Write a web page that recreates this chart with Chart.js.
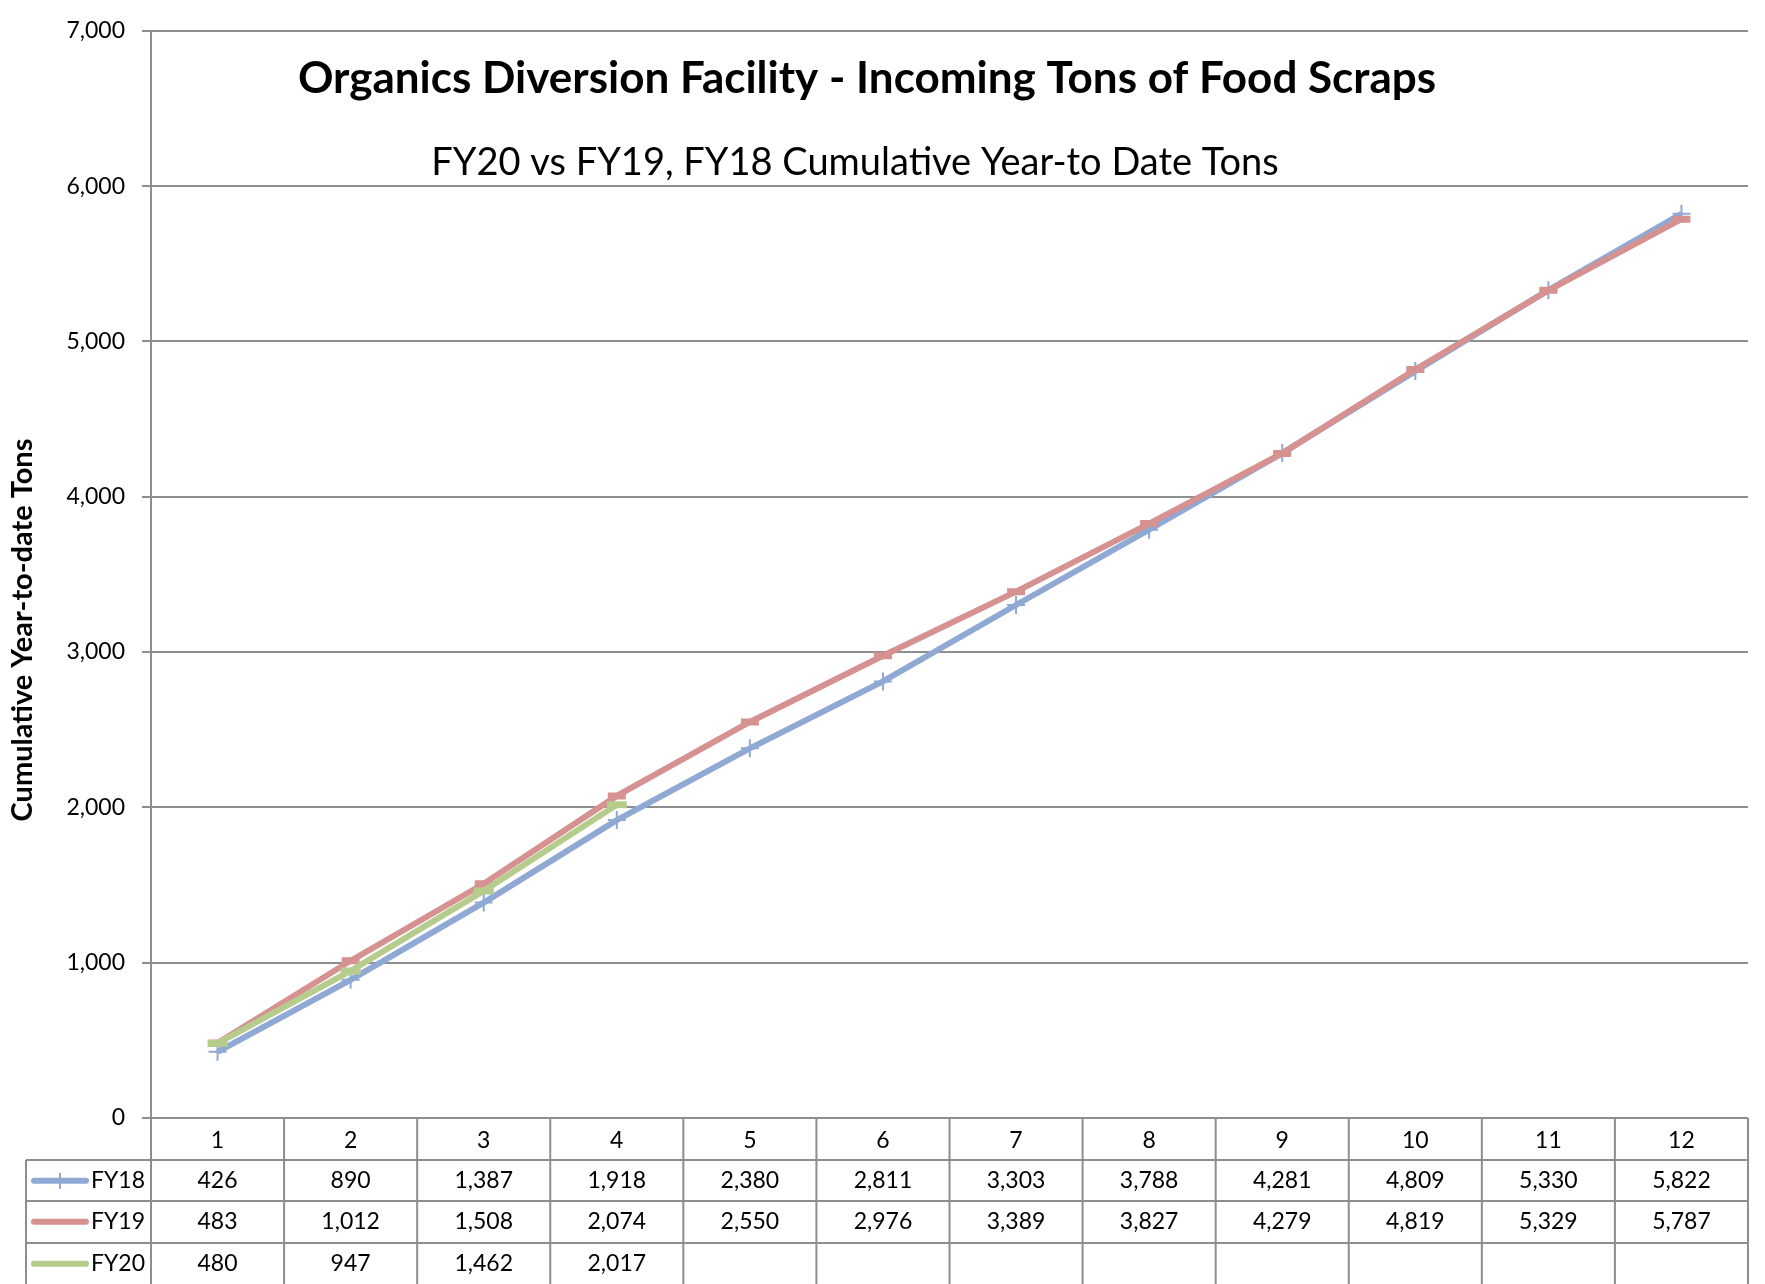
<!DOCTYPE html>
<html>
<head>
<meta charset="utf-8">
<title>Organics Diversion Facility - Incoming Tons of Food Scraps</title>
<script src="https://cdn.jsdelivr.net/npm/chart.js@4.4.1/dist/chart.umd.min.js"></script>
<style>
  html, body { margin: 0; padding: 0; background: #fff; }
  #wrap { width: 1765px; height: 1284px; }
</style>
</head>
<body>
<div id="wrap"><canvas id="tons-chart" width="1765" height="1284"></canvas></div>
<script>
// chart data
const months = ['1', '2', '3', '4', '5', '6', '7', '8', '9', '10', '11', '12'];
const seriesNames = ['FY18', 'FY19', 'FY20'];
const fy18 = [426, 890, 1387, 1918, 2380, 2811, 3303, 3788, 4281, 4809, 5330, 5822];
const fy19 = [483, 1012, 1508, 2074, 2550, 2976, 3389, 3827, 4279, 4819, 5329, 5787];
const fy20 = [480, 947, 1462, 2017];
const chartTitle = 'Organics Diversion Facility - Incoming Tons of Food Scraps';
const chartSubtitle = 'FY20 vs FY19, FY18 Cumulative Year-to Date Tons';
const yTitle = 'Cumulative Year-to-date Tons';

const FONT = 'Lato, "Open Sans", sans-serif';
const GRID = '#8e8e8e';
const colors = ['#8fa9d4', '#d69191', '#b6cc8d'];
const fmt = v => v.toLocaleString('en-US');

// draws the titles, the rotated y title and the data table under the plot
const tablePlugin = {
    id: 'dataTable',
    afterDraw(chart) {
        const ctx = chart.ctx;
        const area = chart.chartArea;
        const x = chart.scales.x;
        const colW = (area.right - area.left) / months.length;
        const headTop = area.bottom;
        const rowTops = [headTop + 42, headTop + 83, headTop + 125];
        const rowH = 41.5;
        const legendLeft = 26;
        const bottom = chart.height;

        ctx.save();
        ctx.strokeStyle = GRID;
        ctx.lineWidth = 2;
        ctx.beginPath();
        rowTops.forEach(y => {
            ctx.moveTo(legendLeft, y);
            ctx.lineTo(area.right, y);
        });
        ctx.moveTo(legendLeft, rowTops[0]);
        ctx.lineTo(legendLeft, bottom);
        for (let i = 0; i <= months.length; i++) {
            const cx = area.left + i * colW;
            ctx.moveTo(cx, headTop);
            ctx.lineTo(cx, bottom);
        }
        ctx.stroke();

        // values
        const series = [fy18, fy19, fy20];
        ctx.fillStyle = '#000';
        ctx.font = `23px ${FONT}`;
        ctx.textAlign = 'center';
        ctx.textBaseline = 'middle';
        series.forEach((data, r) => {
            const cy = rowTops[r] + rowH / 2;
            data.forEach((v, i) => {
                ctx.fillText(fmt(v), x.getPixelForValue(i), cy);
            });
        });

        // legend keys
        series.forEach((data, r) => {
            const cy = rowTops[r] + rowH / 2;
            ctx.strokeStyle = colors[r];
            ctx.lineWidth = 6;
            ctx.lineCap = 'round';
            ctx.beginPath();
            ctx.moveTo(34, cy);
            ctx.lineTo(86, cy);
            ctx.stroke();
            if (r === 0) {
                ctx.lineWidth = 2;
                ctx.lineCap = 'butt';
                ctx.beginPath();
                ctx.moveTo(60, cy - 8);
                ctx.lineTo(60, cy + 8);
                ctx.stroke();
            }
            ctx.fillStyle = '#000';
            ctx.textAlign = 'right';
            ctx.fillText(seriesNames[r], 145, cy);
        });

        // titles
        ctx.textAlign = 'center';
        ctx.textBaseline = 'alphabetic';
        ctx.font = `bold 44px ${FONT}`;
        ctx.fillText(chartTitle, 867, 93);
        ctx.font = `38px ${FONT}`;
        ctx.fillText(chartSubtitle, 855, 175);

        // y axis title
        ctx.translate(23, 630);
        ctx.rotate(-Math.PI / 2);
        ctx.font = `bold 29px ${FONT}`;
        ctx.textBaseline = 'middle';
        ctx.fillText(yTitle, 0, 0);
        ctx.restore();
    }
};

const ctx = document.getElementById('tons-chart').getContext('2d');
new Chart(ctx, {
    type: 'line',
    data: {
        labels: months,
        datasets: [
            {
                label: seriesNames[0],
                data: fy18,
                borderColor: colors[0],
                backgroundColor: colors[0],
                borderWidth: 6,
                pointStyle: 'cross',
                pointRadius: 9,
                pointBorderWidth: 2,
                order: 3
            },
            {
                label: seriesNames[1],
                data: fy19,
                borderColor: colors[1],
                backgroundColor: colors[1],
                borderWidth: 6,
                pointStyle: 'line',
                pointRadius: 9,
                pointBorderWidth: 7,
                order: 2
            },
            {
                label: seriesNames[2],
                data: fy20,
                borderColor: colors[2],
                backgroundColor: colors[2],
                borderWidth: 6,
                pointStyle: 'line',
                pointRadius: 10,
                pointBorderWidth: 7,
                order: 1
            }
        ]
    },
    options: {
        responsive: false,
        animation: false,
        devicePixelRatio: 1,
        layout: { padding: { top: 20, right: 3, bottom: 0, left: 0 } },
        plugins: {
            legend: { display: false },
            tooltip: { enabled: false },
            title: { display: false }
        },
        elements: { line: { tension: 0 } },
        scales: {
            x: {
                offset: true,
                grid: { display: false, drawTicks: false },
                border: { display: false },
                ticks: {
                    color: '#000',
                    font: { family: FONT, size: 23 },
                    padding: 9,
                    maxRotation: 0
                },
                afterFit: s => { s.height = 166; }
            },
            y: {
                min: 0,
                max: 7000,
                ticks: {
                    stepSize: 1000,
                    color: '#000',
                    font: { family: FONT, size: 23 },
                    padding: 17,
                    callback: v => fmt(v)
                },
                grid: { color: GRID, lineWidth: 2, tickLength: 9 },
                border: { color: GRID, width: 2 },
                afterFit: s => { s.width = 151; }
            }
        }
    },
    plugins: [tablePlugin]
});
</script>
</body>
</html>
